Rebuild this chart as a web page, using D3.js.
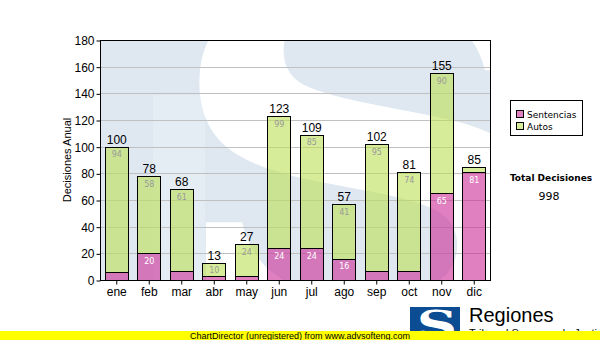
<!DOCTYPE html>
<html>
<head>
<meta charset="utf-8">
<script src="https://cdn.jsdelivr.net/npm/d3@7"></script>
<style>
  html, body { margin: 0; padding: 0; background: #fff; }
  svg { display: block; }
</style>
</head>
<body>
<div id="chart"></div>
<script>
const months = ["ene","feb","mar","abr","may","jun","jul","ago","sep","oct","nov","dic"];
const sentencias = [6, 20, 7, 3, 3, 24, 24, 16, 7, 7, 65, 81];
const autos = [94, 58, 61, 10, 24, 99, 85, 41, 95, 74, 90, 4];
const seriesNames = ["Sentencias", "Autos"];
const yTicks = [0, 20, 40, 60, 80, 100, 120, 140, 160, 180];
const totalTitle = "Total Decisiones";
const yTitle = "Decisiones Anual";

const W = 600, H = 340;
const plot = { left: 100, right: 490, top: 40, bottom: 280 };
const colors = { Sentencias: "rgb(203,43,150)", Autos: "rgb(187,223,83)" };

const svg = d3.select("#chart").append("svg").attr("width", W).attr("height", H);

const x = d3.scaleBand().domain(months).range([plot.left, plot.right]).paddingInner(0.28).paddingOuter(0.14);
const y = d3.scaleLinear().domain([0, 180]).range([plot.bottom, plot.top]);

// plot background with watermark
svg.append("clipPath").attr("id", "pc").append("rect")
  .attr("x", plot.left).attr("y", plot.top).attr("width", plot.right - plot.left).attr("height", plot.bottom - plot.top);
const wm = svg.append("g").attr("clip-path", "url(#pc)");
wm.append("rect").attr("x", plot.left).attr("y", plot.top).attr("width", plot.right - plot.left).attr("height", plot.bottom - plot.top).attr("fill", "#dfe8f1");
wm.append("rect").attr("x", 153).attr("y", 95).attr("width", 52).attr("height", 190).attr("fill", "#e4ecf4");
wm.append("text").attr("transform", "translate(372,318) scale(1.5,1.18)").attr("text-anchor", "middle")
  .attr("font-family", "DejaVu Serif").attr("font-weight", "bold").attr("font-size", 390)
  .attr("fill", "#ffffff").text("S");

// grid
svg.append("g").selectAll("line").data(yTicks.filter(d => d > 0)).join("line")
  .attr("x1", plot.left).attr("x2", plot.right)
  .attr("y1", d => Math.round(y(d)) + 0.5).attr("y2", d => Math.round(y(d)) + 0.5)
  .attr("stroke", "#c0c0c0").attr("stroke-width", 1);

// stacked bars
const rows = months.map((m, i) => ({ m, Sentencias: sentencias[i], Autos: autos[i] }));
const stack = d3.stack().keys(seriesNames)(rows);
const gBars = svg.append("g");
stack.forEach(layer => {
  gBars.append("g").selectAll("rect").data(layer).join("rect")
    .attr("x", d => Math.round(x(d.data.m)) + 0.5)
    .attr("y", d => Math.round(y(d[1])) + 0.5)
    .attr("width", Math.round(x.bandwidth()))
    .attr("height", d => Math.round(y(d[0])) - Math.round(y(d[1])))
    .attr("fill", colors[layer.key]).attr("fill-opacity", 0.6)
    .attr("stroke", "#000").attr("stroke-width", 1);
});

// inner labels
stack.forEach(layer => {
  svg.append("g").selectAll("text").data(layer.filter(d => d[1] - d[0] >= 10)).join("text")
    .attr("x", d => x(d.data.m) + x.bandwidth() / 2 + 0.5)
    .attr("y", d => y(d[1]) + 10.5)
    .attr("text-anchor", "middle")
    .attr("font-family", "DejaVu Sans").attr("font-size", 8)
    .attr("fill", layer.key === "Autos" ? "#999999" : "#ffffff")
    .text(d => d[1] - d[0]);
});

// totals
svg.append("g").selectAll("text").data(rows).join("text")
  .attr("x", d => x(d.m) + x.bandwidth() / 2 + 0.5)
  .attr("y", d => y(d.Sentencias + d.Autos) - 3)
  .attr("text-anchor", "middle")
  .attr("font-family", "Liberation Sans").attr("font-size", 12)
  .attr("fill", "#000")
  .text(d => d.Sentencias + d.Autos);

// plot border
svg.append("rect").attr("x", plot.left + 0.5).attr("y", plot.top + 0.5)
  .attr("width", plot.right - plot.left).attr("height", plot.bottom - plot.top)
  .attr("fill", "none").attr("stroke", "#000");

// axes
const yAxis = svg.append("g").attr("transform", `translate(${plot.left + 0.5},0.5)`)
  .call(d3.axisLeft(y).tickValues(yTicks).tickSize(4).tickPadding(2));
const xAxis = svg.append("g").attr("transform", `translate(0.5,${plot.bottom + 0.5})`)
  .call(d3.axisBottom(x).tickSize(4).tickPadding(3));
[yAxis, xAxis].forEach(a => {
  a.select(".domain").remove();
  a.selectAll("line").attr("stroke", "#000");
  a.selectAll("text").attr("font-family", "Liberation Sans").attr("font-size", 12).attr("fill", "#000");
});

svg.append("text").attr("transform", "translate(71,160) rotate(-90)")
  .attr("text-anchor", "middle").attr("font-family", "Liberation Sans").attr("font-size", 11)
  .attr("fill", "#000").text(yTitle);

// legend
const lg = svg.append("g");
lg.append("rect").attr("x", 510.5).attr("y", 100.5).attr("width", 72).attr("height", 35)
  .attr("fill", "#fff").attr("stroke", "#000");
seriesNames.forEach((k, i) => {
  lg.append("rect").attr("x", 516.5).attr("y", 110.5 + i * 12).attr("width", 7).attr("height", 7)
    .attr("fill", colors[k]).attr("fill-opacity", 0.6).attr("stroke", "#000");
  lg.append("text").attr("x", 527).attr("y", 117.5 + i * 12)
    .attr("font-family", "DejaVu Sans").attr("font-size", 9).attr("fill", "#000").text(k);
});

const total = d3.sum(sentencias) + d3.sum(autos);
svg.append("text").attr("x", 551).attr("y", 181).attr("text-anchor", "middle")
  .attr("font-family", "DejaVu Sans").attr("font-weight", "bold").attr("font-size", 9)
  .attr("fill", "#000").text(totalTitle);
svg.append("text").attr("x", 549).attr("y", 200).attr("text-anchor", "middle")
  .attr("font-family", "DejaVu Sans").attr("font-size", 11)
  .attr("fill", "#000").text(total);

// logo
svg.append("rect").attr("x", 410).attr("y", 307).attr("width", 50).attr("height", 33).attr("fill", "#0b4c93");
svg.append("text").attr("transform", "translate(437,339) scale(1.4,1)").attr("text-anchor", "middle")
  .attr("font-family", "DejaVu Serif").attr("font-weight", "bold").attr("font-size", 40)
  .attr("fill", "#fff").text("S");
svg.append("text").attr("x", 469).attr("y", 322)
  .attr("font-family", "Liberation Sans").attr("font-size", 20).attr("fill", "#000").text("Regiones");
svg.append("text").attr("x", 469).attr("y", 337)
  .attr("font-family", "Liberation Sans").attr("font-size", 11).attr("fill", "#000").text("Tribunal Supremo de Justicia");

// footer
svg.append("rect").attr("x", 0).attr("y", 331).attr("width", W).attr("height", 9).attr("fill", "#ffff00");
svg.append("text").attr("x", 300).attr("y", 338.5).attr("text-anchor", "middle")
  .attr("font-family", "Liberation Sans").attr("font-size", 9).attr("fill", "#000")
  .text("ChartDirector (unregistered) from www.advsofteng.com");
</script>
</body>
</html>
